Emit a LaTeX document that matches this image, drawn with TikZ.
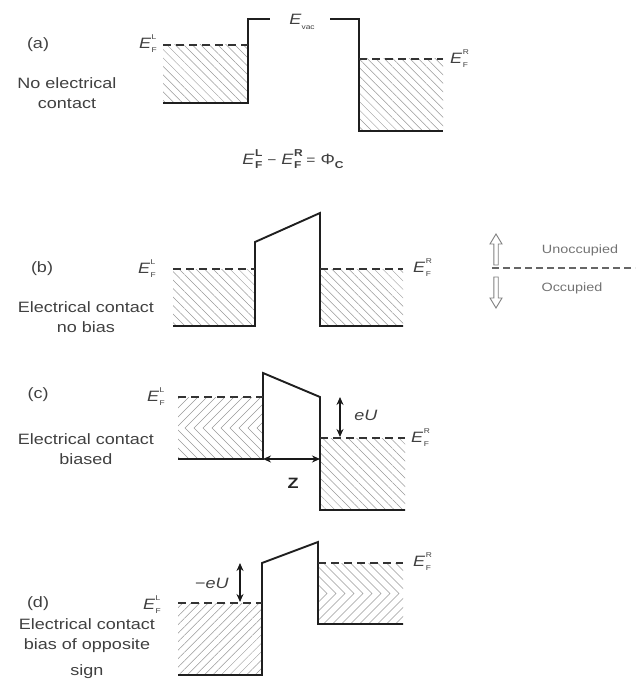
\documentclass[tikz,border=0pt]{standalone}
\usepackage{fontspec}
\setmainfont[FakeStretch=1.2]{Liberation Sans}
\usetikzlibrary{arrows.meta,patterns.meta}
\newcommand{\EFlab}[2][7]{\textit{E}\kern0.4pt\makebox[0pt][l]{\raisebox{1.1ex}{\fontsize{#1}{#1}\selectfont #2}}\raisebox{-0.55ex}{\fontsize{#1}{#1}\selectfont F}}
\newcommand{\EFbold}[1]{\textit{E}\kern0.4pt\makebox[0pt][l]{\raisebox{1.0ex}{\fontsize{10}{10}\selectfont\bfseries #1}}\raisebox{-0.55ex}{\fontsize{10}{10}\selectfont\bfseries F}}
\begin{document}
\begin{tikzpicture}[x=1pt,y=-1pt,
  band/.style={line width=1.9pt, black!88, line join=miter},
  fermi/.style={line width=1.8pt, black!80, dash pattern=on 8pt off 5pt},
  hatchnw/.style={pattern={Lines[angle=-45,distance=6pt,line width=0.5pt]}, pattern color=black!40},
  hatchne/.style={pattern={Lines[angle=45,distance=6pt,line width=0.5pt]}, pattern color=black!40},
  chev/.style={line width=0.5pt, black!40},
  lab/.style={font=\fontsize{15}{20}\selectfont, text=black!75, inner sep=0pt, align=center},
  elab/.style={font=\fontsize{15}{18}\selectfont, text=black!75, inner sep=0pt},
  dim/.style={line width=1.4pt, black!90, {Stealth[length=8pt,width=7pt]}-{Stealth[length=8pt,width=7pt]}},
  legarrow/.style={line width=0.9pt, black!50, fill=white, line join=miter},
  legdash/.style={line width=1.5pt, black!60, dash pattern=on 7pt off 4pt},
  legtext/.style={font=\fontsize{12}{14}\selectfont, text=black!55, inner sep=0pt}
]
\useasboundingbox (0,0) rectangle (635,684);

% ---------------- (a)
\node[lab] (la) at (38,45) {(a)};
\node[lab] (da) at (67,93) {No electrical\\contact};
\fill[hatchnw] (163,45) rectangle (248,103);
\fill[hatchnw] (359,59) rectangle (443,131);
\draw[band] (163,103) -- (248,103) -- (248,19) -- (270,19);
\draw[band] (330,19) -- (359,19) -- (359,131) -- (443,131);
\draw[fermi] (163,45) -- (248,45);
\draw[fermi] (359,59) -- (443,59);
\node[elab, anchor=east] (efla) at (157,44) {\EFlab{L}};
\node[elab, anchor=west] (efra) at (450,59) {\EFlab{R}};
\node[elab] (evac) at (302,22) {\textit{E}\raisebox{-0.55ex}{\fontsize{7}{7}\selectfont vac}};
\node[elab] (eq) at (293,159) {\EFbold{L} {\fontsize{13}{13}\selectfont −} \EFbold{R} {\fontsize{13}{13}\selectfont =} Φ\raisebox{-0.55ex}{\fontsize{10}{10}\selectfont\bfseries C}};

% ---------------- (b)
\node[lab] (lb) at (42,269) {(b)};
\node[lab] (db) at (86,317) {Electrical contact\\no bias};
\fill[hatchnw] (173,269) rectangle (255,326);
\fill[hatchnw] (320,269) rectangle (403,326);
\draw[band] (173,326) -- (255,326) -- (255,242) -- (320,213) -- (320,326) -- (403,326);
\draw[fermi] (173,269) -- (255,269);
\draw[fermi] (320,269) -- (403,269);
\node[elab, anchor=east] (eflb) at (156,269) {\EFlab{L}};
\node[elab, anchor=west] (efrb) at (413,268) {\EFlab{R}};

% legend
\draw[legarrow] (496,234) -- (502,244) -- (498.2,244) -- (498.2,265) -- (493.8,265) -- (493.8,244) -- (490,244) -- cycle;
\draw[legarrow] (496,308) -- (502,298) -- (498.2,298) -- (498.2,277) -- (493.8,277) -- (493.8,298) -- (490,298) -- cycle;
\draw[legdash] (492,268) -- (635,268);
\node[legtext] (unocc) at (580,250) {Unoccupied};
\node[legtext] (occ) at (572,288) {Occupied};

% ---------------- (c)
\node[lab] (lc) at (38,395) {(c)};
\node[lab] (dc) at (86,449) {Electrical contact\\biased};
\begin{scope}
  \clip (178,397) rectangle (263,459);
  \foreach \x in {140,149,...,270} {
    \draw[chev] (\x+31,397) -- (\x,428) -- (\x+31,459);
  }
\end{scope}
\fill[hatchnw] (320,438) rectangle (405,510);
\draw[band] (178,459) -- (263,459) -- (263,373) -- (320,397) -- (320,510) -- (405,510);
\draw[fermi] (178,397) -- (263,397);
\draw[fermi] (320,438) -- (405,438);
\node[elab, anchor=east] (eflc) at (165,397) {\EFlab{L}};
\node[elab, anchor=west] (efrc) at (411,438) {\EFlab{R}};
\coordinate (zl) at (263,459);
\coordinate (zr) at (320,459);
\draw[dim] (zl) -- (zr);
\node[font=\fontsize{15}{15}\selectfont\bfseries, text=black!85, inner sep=0pt] (zlab) at (293,483) {Z};
\coordinate (eut) at (340,397);
\coordinate (eub) at (340,437);
\draw[dim] (eut) -- (eub);
\node[elab] (eu) at (366,415) {\textit{eU}};

% ---------------- (d)
\node[lab] (ld) at (38,604) {(d)};
\node[lab] (dd) at (87,636) {Electrical contact\\bias of opposite};
\node[lab] (dd2) at (87,672) {sign};
\fill[hatchne] (178,603) rectangle (262,675);
\begin{scope}
  \clip (318,563) rectangle (403,624);
  \foreach \x in {318,327,...,440} {
    \draw[chev] (\x-30.5,563) -- (\x,593.5) -- (\x-30.5,624);
  }
\end{scope}
\draw[band] (178,675) -- (262,675) -- (262,563) -- (318,542) -- (318,624) -- (403,624);
\draw[fermi] (178,603) -- (262,603);
\draw[fermi] (318,563) -- (403,563);
\node[elab, anchor=east] (efld) at (161,605) {\EFlab{L}};
\node[elab, anchor=west] (efrd) at (413,562) {\EFlab{R}};
\coordinate (mut) at (240,563);
\coordinate (mub) at (240,602);
\draw[dim] (mut) -- (mub);
\node[elab] (meu) at (212,583) {−\textit{eU}};
\end{tikzpicture}
\end{document}
